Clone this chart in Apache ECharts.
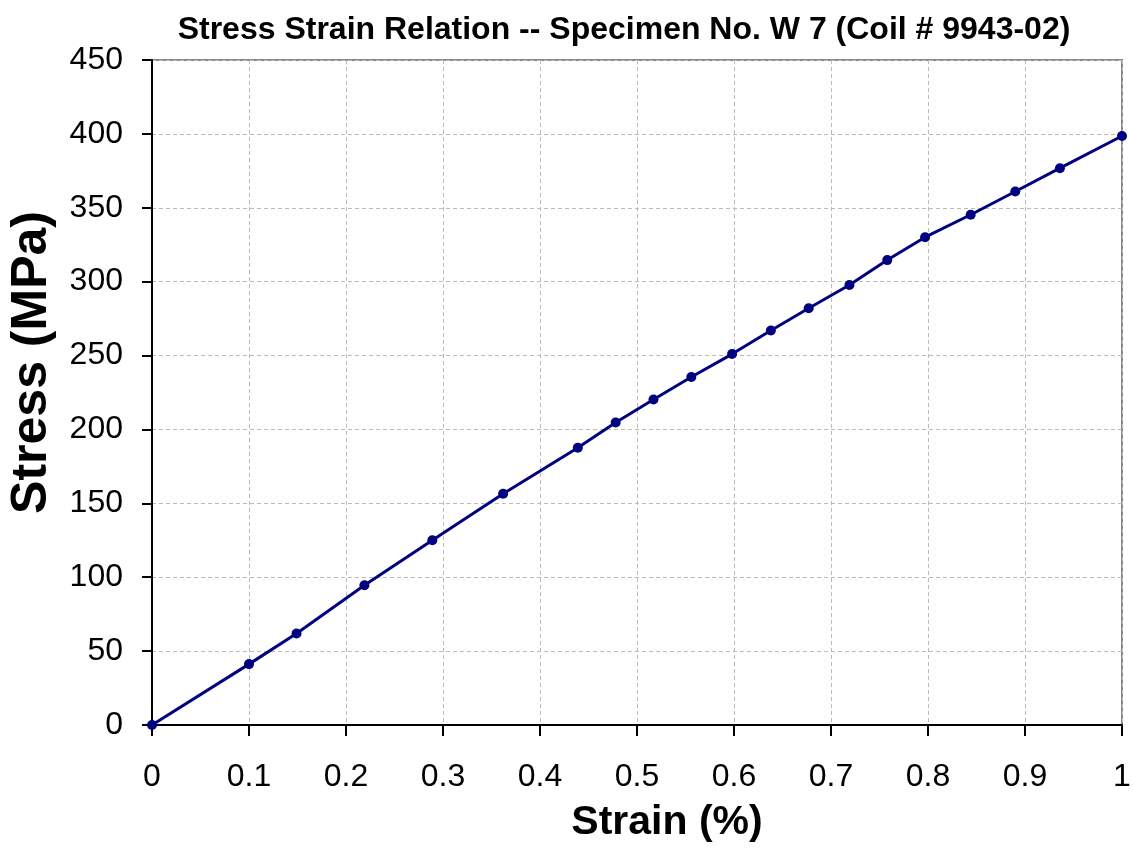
<!DOCTYPE html>
<html>
<head>
<meta charset="utf-8">
<script src="https://cdn.jsdelivr.net/npm/echarts@6/dist/echarts.min.js"></script>
<style>
  html, body { margin: 0; padding: 0; background: #fff; }
  #chart { width: 1133px; height: 861px; }
</style>
</head>
<body>
<div id="chart"></div>
<script>
// Valores
const strain = [0, 0.100, 0.149, 0.219, 0.289, 0.362, 0.439, 0.478, 0.517, 0.556,
  0.598, 0.638, 0.677, 0.719, 0.758, 0.797, 0.844, 0.890, 0.936, 1.0];
const stress = [0, 41.2, 61.9, 94.6, 125.0, 156.5, 187.6, 204.7, 220.3, 235.5,
  251.0, 266.9, 282.0, 297.7, 314.6, 330.1, 345.3, 361.0, 376.8, 398.6];

const xTicks = [0, 0.1, 0.2, 0.3, 0.4, 0.5, 0.6, 0.7, 0.8, 0.9, 1];
const yTicks = [0, 50, 100, 150, 200, 250, 300, 350, 400, 450];

const font = "'Liberation Sans', Arial, sans-serif";

const chart = echarts.init(document.getElementById("chart"));

chart.setOption({
  animation: false,
  title: {
    text: "Stress Strain Relation -- Specimen No. W 7 (Coil # 9943-02)",
    left: 619,
    textAlign: "center",
    top: 9,
    textStyle: {
      fontFamily: font,
      fontWeight: "bold",
      fontSize: 32,
      color: "#000",
    },
  },
  grid: {
    left: 152,
    right: 11,
    top: 60,
    bottom: 136,
    outerBoundsMode: "none",
    containLabel: false,
    show: true,
    borderColor: "#888",
    borderWidth: 2,
  },
  xAxis: {
    type: "value",
    min: xTicks[0],
    max: xTicks[xTicks.length - 1],
    interval: 0.1,
    name: "Strain (%)",
    nameLocation: "middle",
    nameGap: 77,
    nameTextStyle: {
      fontFamily: font,
      fontWeight: "bold",
      fontSize: 41,
      color: "#000",
      padding: [0, 0, 0, 60],
    },
    axisLine: { lineStyle: { color: "#000", width: 2 } },
    axisTick: { show: true, inside: false, length: 11, lineStyle: { color: "#000", width: 2 } },
    axisLabel: {
      margin: 36,
      fontFamily: font,
      fontSize: 32,
      color: "#000",
      formatter: (v) => String(xTicks.find((t) => Math.abs(t - v) < 1e-6) ?? v),
    },
    splitLine: { show: true, lineStyle: { color: "#bbb", type: [4, 3], width: 1 } },
  },
  yAxis: {
    type: "value",
    min: yTicks[0],
    max: yTicks[yTicks.length - 1],
    interval: 50,
    name: "Stress (MPa)",
    nameLocation: "middle",
    nameRotate: 90,
    nameGap: 95,
    nameTextStyle: {
      fontFamily: font,
      fontWeight: "bold",
      fontSize: 50,
      color: "#000",
      padding: [0, 0, 0, 60],
    },
    axisLine: { show: true, lineStyle: { color: "#000", width: 2 } },
    axisTick: { show: true, inside: false, length: 10, lineStyle: { color: "#000", width: 2 } },
    axisLabel: {
      margin: 29,
      fontFamily: font,
      fontSize: 32,
      color: "#000",
    },
    splitLine: { show: true, lineStyle: { color: "#bbb", type: [4, 3], width: 1 } },
  },
  series: [
    {
      type: "line",
      name: "Stress",
      data: strain.map((x, i) => [x, stress[i]]),
      symbol: "circle",
      symbolSize: 10,
      lineStyle: { color: "#000080", width: 3 },
      itemStyle: { color: "#000080" },
      clip: false,
    },
  ],
});
</script>
</body>
</html>
